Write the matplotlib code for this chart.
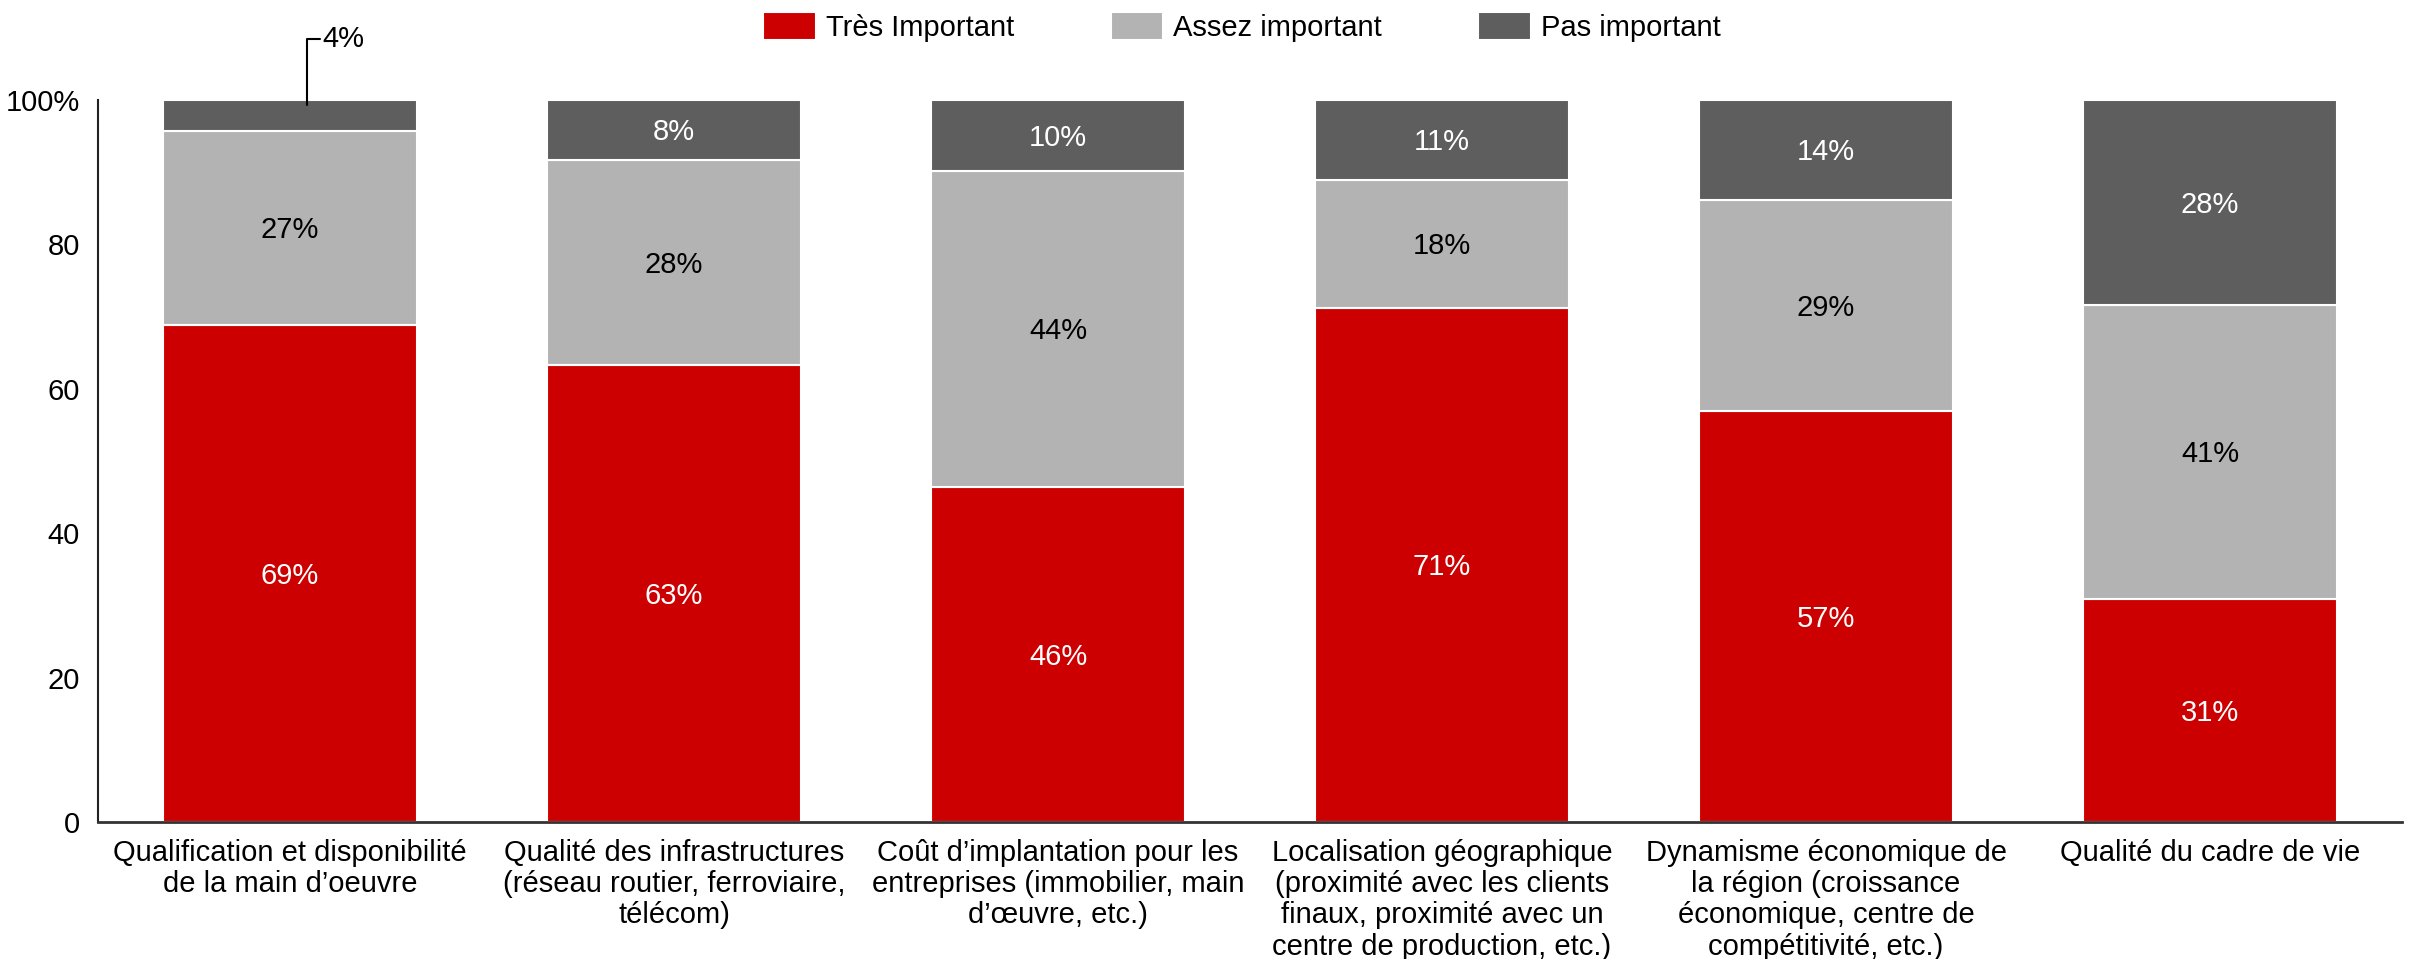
import matplotlib
matplotlib.use("Agg")
import matplotlib.pyplot as plt
import numpy as np

plt.rcParams['font.family'] = ['Liberation Sans', 'DejaVu Sans']

categories = [
    "Qualification et disponibilité\nde la main d\u2019oeuvre",
    "Qualité des infrastructures\n(réseau routier, ferroviaire,\ntélécom)",
    "Coût d\u2019implantation pour les\nentreprises (immobilier, main\nd\u2019\u0153uvre, etc.)",
    "Localisation géographique\n(proximité avec les clients\nfinaux, proximité avec un\ncentre de production, etc.)",
    "Dynamisme économique de\nla région (croissance\néconomique, centre de\ncompétitivité, etc.)",
    "Qualité du cadre de vie",
]
series_names = ["Très Important", "Assez important", "Pas important"]
tres = [68.8, 63.3, 46.4, 71.2, 56.9, 30.9]
assez = [26.9, 28.4, 43.8, 17.7, 29.2, 40.7]
pas = [4.3, 8.3, 9.8, 11.1, 13.9, 28.4]
tres_lbl = ["69%", "63%", "46%", "71%", "57%", "31%"]
assez_lbl = ["27%", "28%", "44%", "18%", "29%", "41%"]
pas_lbl = ["4%", "8%", "10%", "11%", "14%", "28%"]
yticks = [0, 20, 40, 60, 80, 100]
ytick_labels = ["0", "20", "40", "60", "80", "100%"]

colors = ["#CC0000", "#B3B3B3", "#5E5E5E"]
txtcol = ["white", "black", "white"]

FS = 21
W, H = 2415, 959
fig = plt.figure(figsize=(W / 100, H / 100), dpi=100)
ax = fig.add_axes([98 / W, 1 - 822 / H, (2402 - 98) / W, (822 - 100) / H])

x = np.arange(len(categories))
bw = 0.66
bottom = np.zeros(len(categories))
for vals, lbls, c, tc, name, s in zip([tres, assez, pas], [tres_lbl, assez_lbl, pas_lbl],
                                     colors, txtcol, series_names, range(3)):
    vals = np.array(vals)
    ax.bar(x, vals, bw, bottom=bottom, color=c, edgecolor="white", linewidth=1.5, label=name)
    for i in range(len(x)):
        if s == 2 and i == 0:
            continue
        ax.text(x[i], bottom[i] + vals[i] / 2 - 0.3, lbls[i], ha="center", va="center",
                color=tc, fontsize=FS)
    bottom += vals

# 4% annotation with leader line
ax.annotate(pas_lbl[0], xy=(x[0] + 0.045, 100 - pas[0] / 2 + 1.5), xytext=(x[0] + 0.085, 108.4),
            ha="left", va="center", fontsize=FS, annotation_clip=False,
            arrowprops=dict(arrowstyle="-", connectionstyle="angle,angleA=0,angleB=90,rad=0",
                            shrinkA=0, shrinkB=0, color="black", lw=1.5, relpos=(0, 0.5)))

ax.set_xlim(-0.5, len(categories) - 0.5)
ax.set_ylim(0, 100)
ax.set_yticks(yticks)
ax.set_yticklabels(ytick_labels, fontsize=FS)
ax.set_xticks(x)
ax.set_xticklabels(categories, fontsize=FS, va="top", linespacing=1.15)
ax.tick_params(axis="both", length=0)
ax.tick_params(axis="y", pad=13)
ax.tick_params(axis="x", pad=12)
for sp in ["top", "right"]:
    ax.spines[sp].set_visible(False)
ax.spines["left"].set_linewidth(1.5)
ax.spines["bottom"].set_linewidth(2)
ax.spines["left"].set_color("#222222")
ax.spines["bottom"].set_color("#333333")

fig.legend(loc="center", bbox_to_anchor=(1242 / W, 1 - 27 / H), ncol=3, frameon=False,
           fontsize=FS, handlelength=1.8, handleheight=1.1, handletextpad=0.35,
           columnspacing=3.3)

fig.savefig("out.png", dpi=100)
